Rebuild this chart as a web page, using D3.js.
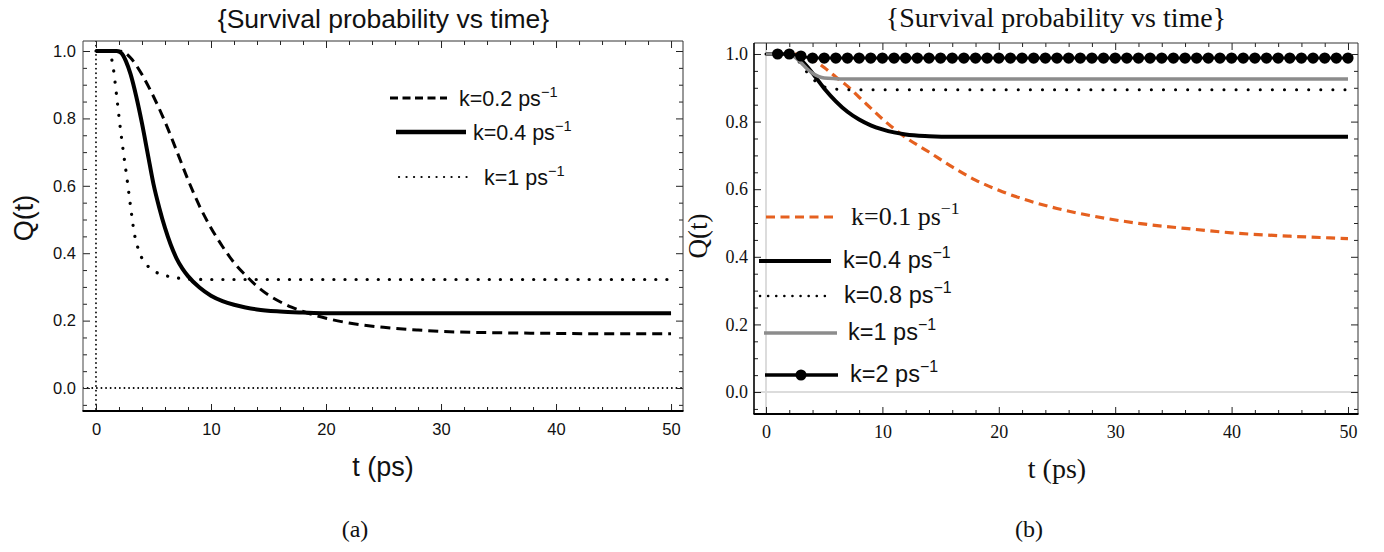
<!DOCTYPE html>
<html><head><meta charset="utf-8">
<script src="https://cdn.jsdelivr.net/npm/d3@7"></script>
<style>body{margin:0;background:#fff}svg{display:block}</style>
</head><body>
<script>
// ---------- tick values ----------
const majorX = [0,10,20,30,40,50];
const minorX = [2,4,6,8,12,14,16,18,22,24,26,28,32,34,36,38,42,44,46,48];
const majorY = [0,0.2,0.4,0.6,0.8,1.0];
const minorY = [-0.05,0.05,0.1,0.15,0.25,0.3,0.35,0.45,0.5,0.55,0.65,0.7,0.75,0.85,0.9,0.95];

// ---------- panel (a) data ----------
const tA_k02 = [0,1,2,2.5,3,4,5,6,7,8,9,10,11,12,13,14,15,16,17,18,20,22,25,28,30,35,40,45,50];
const qA_k02 = [1,1,1,0.995,0.98,0.93,0.865,0.79,0.705,0.618,0.54,0.475,0.42,0.372,0.335,0.302,0.276,0.256,0.24,0.227,0.207,0.193,0.18,0.172,0.168,0.164,0.162,0.161,0.161];
const tA_k04 = [0,1,1.8,2.2,2.6,3,3.5,4,4.5,5,5.5,6,6.5,7,7.5,8,9,10,11,12,13,14,16,18,20,30,40,50];
const qA_k04 = [1,1,1,0.994,0.97,0.932,0.865,0.785,0.695,0.605,0.535,0.475,0.425,0.385,0.355,0.332,0.298,0.274,0.258,0.247,0.239,0.233,0.227,0.224,0.222,0.222,0.222,0.222];
const tA_k1 = [0,1,1.2,1.5,1.8,2.1,2.4,2.7,3,3.3,3.7,4,4.5,5,6,7,8,10,20,30,40,50];
const qA_k1 = [1,1,0.995,0.95,0.865,0.775,0.695,0.62,0.54,0.465,0.41,0.385,0.362,0.348,0.334,0.327,0.323,0.322,0.322,0.322,0.322,0.322];
const legendA = ["k=0.2 ps", "k=0.4 ps", "k=1 ps"];

// ---------- panel (b) data ----------
const tB_k01 = [0,3,3.5,4,5,6,7,8,9,10,11,12,14,16,18,20,22,25,28,32,36,40,45,50];
const qB_k01 = [1,1,0.995,0.985,0.96,0.932,0.905,0.872,0.84,0.808,0.779,0.753,0.71,0.666,0.627,0.597,0.572,0.543,0.521,0.499,0.484,0.471,0.461,0.454];
const tB_k04 = [0,2,2.5,3,4,5,6,7,8,9,10,11,12,14,16,50];
const qB_k04 = [1,1,0.995,0.982,0.943,0.898,0.86,0.829,0.806,0.789,0.777,0.768,0.762,0.757,0.755,0.755];
const tB_k08 = [0,2,2.5,3,3.5,4,4.5,5,6,7,50];
const qB_k08 = [1,1,0.99,0.97,0.947,0.927,0.913,0.903,0.896,0.894,0.894];
const tB_k1 = [0,2,2.5,3,3.5,4,4.5,5,6,7,50];
const qB_k1 = [1,1,0.99,0.975,0.957,0.943,0.934,0.929,0.927,0.926,0.926];
const tB_k2 = [1,2,3,4,5,6,7,8,9,10,11,12,13,14,15,16,17,18,19,20,21,22,23,24,25,26,27,28,29,30,31,32,33,34,35,36,37,38,39,40,41,42,43,44,45,46,47,48,49,50];
const qB_k2 = [1,1,0.994,0.988,0.988,0.988,0.988,0.988,0.988,0.988,0.988,0.988,0.988,0.988,0.988,0.988,0.988,0.988,0.988,0.988,0.988,0.988,0.988,0.988,0.988,0.988,0.988,0.988,0.988,0.988,0.988,0.988,0.988,0.988,0.988,0.988,0.988,0.988,0.988,0.988,0.988,0.988,0.988,0.988,0.988,0.988,0.988,0.988,0.988,0.988];
const legendB = ["k=0.1 ps", "k=0.4 ps", "k=0.8 ps", "k=1 ps", "k=2 ps"];

const SANS = "'Liberation Sans', Arial, sans-serif";
const SERIF = "'Liberation Serif', 'Times New Roman', serif";
const ORANGE = "#E5601F";
const GRAY = "#8c8c8c";

const svg = d3.select("body").append("svg").attr("width",1384).attr("height",552);

function axes(g, x, y, c) {
  const styleAx = s => { s.select(".domain").remove(); s.selectAll("line").attr("stroke","#222").attr("stroke-width",1); };
  const lab = s => s.attr("font-family", c.font).attr("font-size", c.tickFs).selectAll("text").attr("fill","#111");
  g.append("g").attr("transform",`translate(0,${c.B})`)
    .call(d3.axisBottom(x).tickValues(majorX).tickSize(-7).tickPadding(c.xPad).tickFormat(d3.format("d")))
    .call(styleAx).call(lab);
  g.append("g").attr("transform",`translate(0,${c.B})`)
    .call(d3.axisBottom(x).tickValues(minorX).tickSize(-4).tickFormat("")).call(styleAx);
  g.append("g").attr("transform",`translate(0,${c.T})`)
    .call(d3.axisTop(x).tickValues(majorX).tickSize(-7).tickFormat("")).call(styleAx);
  g.append("g").attr("transform",`translate(0,${c.T})`)
    .call(d3.axisTop(x).tickValues(minorX).tickSize(-4).tickFormat("")).call(styleAx);
  g.append("g").attr("transform",`translate(${c.L},0)`)
    .call(d3.axisLeft(y).tickValues(majorY).tickSize(-7).tickPadding(c.yPad).tickFormat(d3.format(".1f")))
    .call(styleAx).call(lab);
  g.append("g").attr("transform",`translate(${c.L},0)`)
    .call(d3.axisLeft(y).tickValues(minorY).tickSize(-4).tickFormat("")).call(styleAx);
  g.append("g").attr("transform",`translate(${c.R},0)`)
    .call(d3.axisRight(y).tickValues(majorY).tickSize(-7).tickFormat("")).call(styleAx);
  g.append("g").attr("transform",`translate(${c.R},0)`)
    .call(d3.axisRight(y).tickValues(minorY).tickSize(-4).tickFormat("")).call(styleAx);
  g.append("line").attr("x1",c.L).attr("x2",c.R).attr("y1",c.T).attr("y2",c.T).attr("stroke","#333").attr("stroke-width",1);
  g.append("line").attr("x1",c.R).attr("x2",c.R).attr("y1",c.T).attr("y2",c.B).attr("stroke","#333").attr("stroke-width",1);
  g.append("line").attr("x1",c.L).attr("x2",c.L).attr("y1",c.T).attr("y2",c.B).attr("stroke",c.leftCol).attr("stroke-width",c.leftW);
  g.append("line").attr("x1",c.L-0.5).attr("x2",c.R+0.5).attr("y1",c.B).attr("y2",c.B).attr("stroke","#000").attr("stroke-width",2);
}

function curve(g, x, y, ts, qs, st) {
  const line = d3.line().x(d => x(d[0])).y(d => y(d[1])).curve(d3.curveMonotoneX);
  const p = g.append("path").datum(ts.map((t,i)=>[t,qs[i]])).attr("d", line)
    .attr("fill","none").attr("stroke",st.color).attr("stroke-width",st.w)
    .attr("stroke-linecap", st.cap || "butt").attr("stroke-linejoin","round");
  if (st.dash) p.attr("stroke-dasharray", st.dash);
  return p;
}

function supText(g, x0, yb, label, font, fs) {
  const t = g.append("text").attr("x",x0).attr("y",yb).attr("font-family",font).attr("font-size",fs).attr("fill","#111");
  t.append("tspan").text(label);
  t.append("tspan").attr("dy",-0.42*fs).attr("font-size",fs*0.68).text("\u22121");
}

// ================= Panel (a) =================
{
  const c = {L:83,R:683,T:41,B:411,font:SANS,tickFs:16.5,xPad:12,yPad:7,leftCol:"#444",leftW:1};
  const x = d3.scaleLinear().domain([-1.13,51.04]).range([c.L,c.R]);
  const y = d3.scaleLinear().domain([-0.0682,1.0297]).range([c.B,c.T]);
  const g = svg.append("g");
  svg.append("defs").append("clipPath").attr("id","clipA").append("rect")
    .attr("x",c.L).attr("y",c.T).attr("width",c.R-c.L).attr("height",c.B-c.T);
  const pg = g.append("g").attr("clip-path","url(#clipA)");
  pg.append("line").attr("x1",x(0)).attr("x2",x(0)).attr("y1",c.T).attr("y2",c.B)
    .attr("stroke","#000").attr("stroke-width",1.8).attr("stroke-dasharray","0.1,4.5").attr("stroke-linecap","round");
  pg.append("line").attr("x1",c.L).attr("x2",c.R).attr("y1",y(0)).attr("y2",y(0))
    .attr("stroke","#000").attr("stroke-width",1.8).attr("stroke-dasharray","0.1,4.5").attr("stroke-linecap","round");
  curve(pg,x,y,tA_k02,qA_k02,{color:"#000",w:3,dash:"10,6"});
  curve(pg,x,y,tA_k04,qA_k04,{color:"#000",w:4});
  curve(pg,x,y,tA_k1,qA_k1,{color:"#000",w:3.2,dash:"0.1,11",cap:"round"});
  axes(g,x,y,c);

  const lg = g.append("g");
  lg.append("line").attr("x1",390).attr("x2",447).attr("y1",98).attr("y2",98).attr("stroke","#000").attr("stroke-width",3).attr("stroke-dasharray","8,4.5");
  supText(lg,459,106,legendA[0],SANS,21.5);
  lg.append("line").attr("x1",396).attr("x2",466).attr("y1",132).attr("y2",132).attr("stroke","#000").attr("stroke-width",4.5);
  supText(lg,473,140,legendA[1],SANS,21.5);
  lg.append("line").attr("x1",399).attr("x2",467).attr("y1",177).attr("y2",177).attr("stroke","#000").attr("stroke-width",2.2).attr("stroke-dasharray","0.1,7.4").attr("stroke-linecap","round");
  supText(lg,484,185,legendA[2],SANS,21.5);

  g.append("text").attr("x",383.5).attr("y",28).attr("text-anchor","middle").attr("font-family",SANS).attr("font-size",26.5).attr("fill","#111").text("{Survival probability vs time}");
  g.append("text").attr("x",383).attr("y",476).attr("text-anchor","middle").attr("font-family",SANS).attr("font-size",27).attr("fill","#111").text("t (ps)");
  g.append("text").attr("transform","translate(33,218) rotate(-90)").attr("text-anchor","middle").attr("font-family",SANS).attr("font-size",27).attr("fill","#111").text("Q(t)");
  g.append("text").attr("x",355).attr("y",537).attr("text-anchor","middle").attr("font-family",SERIF).attr("font-size",24).attr("fill","#111").text("(a)");
}

// ================= Panel (b) =================
{
  const c = {L:754,R:1358,T:43,B:414,font:SERIF,tickFs:18,xPad:11,yPad:6,leftCol:"#000",leftW:1.6};
  const x = d3.scaleLinear().domain([-1.031,50.86]).range([c.L,c.R]);
  const y = d3.scaleLinear().domain([-0.065,1.0325]).range([c.B,c.T]);
  const g = svg.append("g");
  svg.append("defs").append("clipPath").attr("id","clipB").append("rect")
    .attr("x",c.L).attr("y",c.T).attr("width",c.R-c.L).attr("height",c.B-c.T);
  const pg = g.append("g").attr("clip-path","url(#clipB)");
  pg.append("line").attr("x1",x(0)).attr("x2",x(0)).attr("y1",c.T).attr("y2",c.B).attr("stroke","#d0d0d0").attr("stroke-width",1.5);
  pg.append("line").attr("x1",c.L).attr("x2",c.R).attr("y1",y(0)).attr("y2",y(0)).attr("stroke","#dcdcdc").attr("stroke-width",2);
  curve(pg,x,y,tB_k01,qB_k01,{color:ORANGE,w:3.2,dash:"9,5.5"});
  curve(pg,x,y,tB_k04,qB_k04,{color:"#000",w:4});
  curve(pg,x,y,tB_k08,qB_k08,{color:"#000",w:3,dash:"0.1,12",cap:"round"});
  curve(pg,x,y,tB_k1,qB_k1,{color:GRAY,w:3.5});
  curve(pg,x,y,tB_k2,qB_k2,{color:"#000",w:3});
  pg.selectAll("circle.k2").data(tB_k2.map((t,i)=>[t,qB_k2[i]])).join("circle").attr("class","k2")
    .attr("cx",d=>x(d[0])).attr("cy",d=>y(d[1])).attr("r",5.6).attr("fill","#000");
  axes(g,x,y,c);

  const lg = g.append("g");
  lg.append("line").attr("x1",766).attr("x2",836).attr("y1",217).attr("y2",217).attr("stroke",ORANGE).attr("stroke-width",3.2).attr("stroke-dasharray","9,5.5");
  supText(lg,851,225,legendB[0],SERIF,26);
  lg.append("line").attr("x1",759).attr("x2",831).attr("y1",261).attr("y2",261).attr("stroke","#000").attr("stroke-width",4);
  supText(lg,843,268,legendB[1],SANS,23.5);
  lg.append("line").attr("x1",760).attr("x2",828).attr("y1",296).attr("y2",296).attr("stroke","#000").attr("stroke-width",2.5).attr("stroke-dasharray","0.1,8").attr("stroke-linecap","round");
  supText(lg,844,303,legendB[2],SANS,23.5);
  lg.append("line").attr("x1",764).attr("x2",837).attr("y1",333).attr("y2",333).attr("stroke",GRAY).attr("stroke-width",3.5);
  supText(lg,848,340,legendB[3],SANS,23.5);
  lg.append("line").attr("x1",765).attr("x2",838).attr("y1",375).attr("y2",375).attr("stroke","#000").attr("stroke-width",3.5);
  lg.append("circle").attr("cx",801).attr("cy",375).attr("r",5.5).attr("fill","#000");
  supText(lg,850,382,legendB[4],SANS,23.5);

  g.append("text").attr("x",1056).attr("y",27).attr("text-anchor","middle").attr("font-family",SERIF).attr("font-size",28).attr("fill","#111").text("{Survival probability vs time}");
  g.append("text").attr("x",1057).attr("y",478).attr("text-anchor","middle").attr("font-family",SERIF).attr("font-size",28).attr("fill","#111").text("t (ps)");
  g.append("text").attr("transform","translate(707,236) rotate(-90)").attr("text-anchor","middle").attr("font-family",SERIF).attr("font-size",27).attr("fill","#111").text("Q(t)");
  g.append("text").attr("x",1029).attr("y",537).attr("text-anchor","middle").attr("font-family",SERIF).attr("font-size",24).attr("fill","#111").text("(b)");
}
</script>
</body></html>
